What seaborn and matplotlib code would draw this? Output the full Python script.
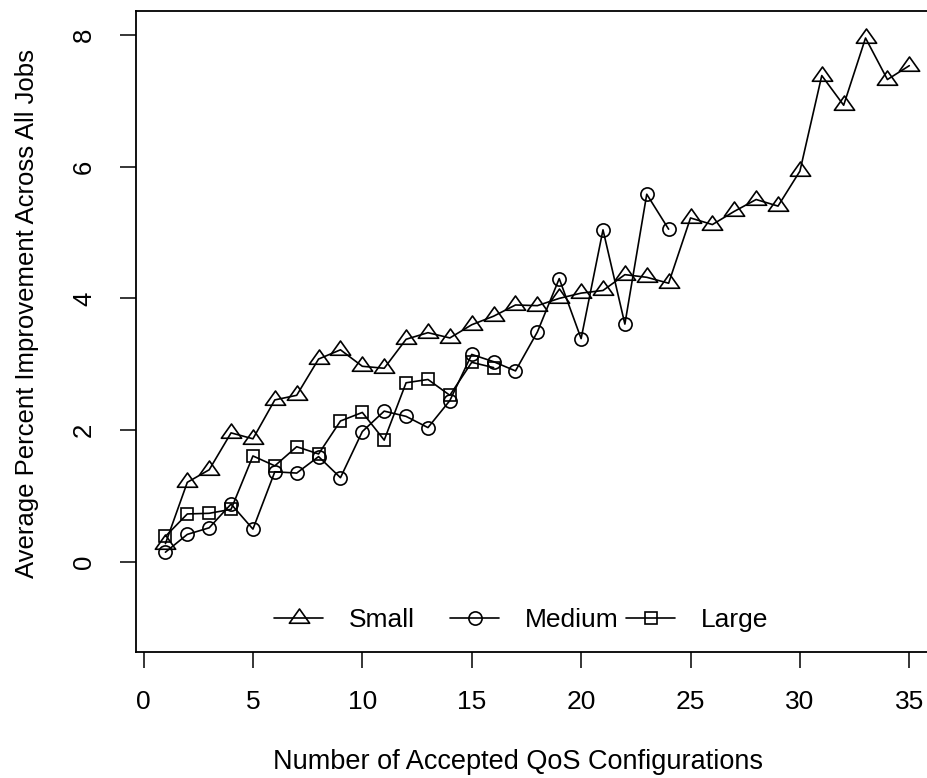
import numpy as np
import pandas as pd
import matplotlib
matplotlib.use("Agg")
import matplotlib.pyplot as plt
from matplotlib.path import Path
from matplotlib.lines import Line2D
import seaborn as sns

# Average percent improvement per number of accepted QoS configurations
small_x = list(range(1, 36))
small_y = [0.28, 1.21, 1.40, 1.96, 1.87, 2.46, 2.53, 3.08, 3.22, 2.97,
           2.94, 3.38, 3.48, 3.40, 3.60, 3.73, 3.90, 3.89, 4.00, 4.08,
           4.12, 4.36, 4.32, 4.23, 5.22, 5.12, 5.32, 5.50, 5.40, 5.93,
           7.38, 6.93, 7.95, 7.32, 7.53]

medium_x = list(range(1, 25))
medium_y = [0.15, 0.42, 0.52, 0.88, 0.50, 1.37, 1.35, 1.60, 1.28, 1.98,
            2.29, 2.21, 2.04, 2.45, 3.15, 3.04, 2.90, 3.49, 4.30, 3.39,
            5.04, 3.61, 5.58, 5.05]

large_x = list(range(1, 17))
large_y = [0.39, 0.73, 0.74, 0.80, 1.61, 1.46, 1.75, 1.64, 2.14, 2.27,
           1.85, 2.72, 2.77, 2.53, 3.03, 2.95]

series_names = ["Small", "Medium", "Large"]
x_ticks = [0, 5, 10, 15, 20, 25, 30, 35]
y_ticks = [0, 2, 4, 6, 8]

sns.set_theme(style="ticks")
plt.rcParams["font.family"] = ["Liberation Sans", "DejaVu Sans"]
plt.rcParams["text.color"] = "black"

fig = plt.figure(figsize=(9.28, 7.78), dpi=100)
ax = fig.add_axes([0.1462, 0.1623, 0.8657, 0.8236])

# closed, slightly flattened open triangle centred on its centroid
tri = Path([(0, 0.938), (-1, -0.469), (1, -0.469), (0, 0.938)],
           [Path.MOVETO, Path.LINETO, Path.LINETO, Path.CLOSEPOLY])
styles = {
    "Small": dict(marker=tri, ms=14.6),
    "Medium": dict(marker="o", ms=9.5),
    "Large": dict(marker="s", ms=9.3),
}

data = {
    "Small": (small_x, small_y),
    "Medium": (medium_x, medium_y),
    "Large": (large_x, large_y),
}

LW = 1.2
for name in series_names:
    xs, ys = data[name]
    df = pd.DataFrame({"x": xs, "y": ys})
    sns.lineplot(data=df, x="x", y="y", ax=ax, color="black", lw=LW,
                 marker=styles[name]["marker"], markersize=styles[name]["ms"],
                 markerfacecolor="none", markeredgecolor="black",
                 markeredgewidth=LW, legend=False)

ax.set_xlim(-0.36, 36.36)
ax.set_ylim(-1.36, 8.36)
ax.set_xticks(x_ticks)
ax.set_yticks(y_ticks)
ax.set_xticklabels([str(v) for v in x_ticks])
ax.set_yticklabels([str(v) for v in y_ticks], rotation=90, va="center")

for s in ax.spines.values():
    s.set_linewidth(1.3)
    s.set_color("black")
ax.tick_params(axis="both", length=11.5, width=1.1, color="black",
               labelcolor="black")
ax.tick_params(axis="x", pad=16, labelsize=19)
ax.tick_params(axis="y", pad=17, labelsize=18.5)

ax.set_xlabel("Number of Accepted QoS Configurations", fontsize=19.5,
              labelpad=25, color="black")
ax.set_ylabel("Average Percent Improvement Across All Jobs", fontsize=18.5,
              labelpad=24, color="black")
ax.xaxis.label.set_x(0.476)
ax.yaxis.label.set_y(0.528)

# legend entries laid out in equal-width slots along the bottom of the panel
slot_left = [274, 450, 626]
for name, xl in zip(series_names, slot_left):
    h = Line2D([], [], color="black", lw=LW, marker=styles[name]["marker"],
               markersize=styles[name]["ms"], markerfacecolor="none",
               markeredgecolor="black", markeredgewidth=LW)
    fig.legend([h], [name], loc="center left", frameon=False,
               bbox_to_anchor=(xl / 928, 1 - 620 / 778),
               fontsize=19, handlelength=1.86, handletextpad=0.98,
               borderpad=0, borderaxespad=0, labelcolor="black")

fig.savefig("out.png", dpi=100)
